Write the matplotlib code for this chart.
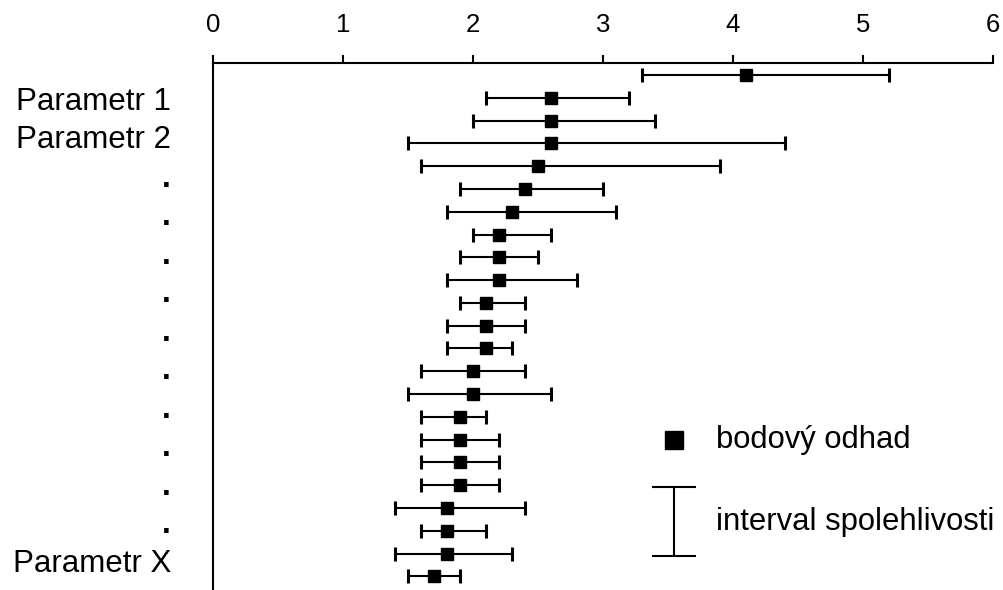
import matplotlib.pyplot as plt
import numpy as np

plt.rcParams['font.family'] = ['Liberation Sans', 'DejaVu Sans']

# point estimates and confidence intervals, top row first
estimate = [4.1, 2.6, 2.6, 2.6, 2.5, 2.4, 2.3, 2.2, 2.2, 2.2, 2.1, 2.1,
            2.1, 2.0, 2.0, 1.9, 1.9, 1.9, 1.9, 1.8, 1.8, 1.8, 1.7]
lower = [3.3, 2.1, 2.0, 1.5, 1.6, 1.9, 1.8, 2.0, 1.9, 1.8, 1.9, 1.8,
         1.8, 1.6, 1.5, 1.6, 1.6, 1.6, 1.6, 1.4, 1.6, 1.4, 1.5]
upper = [5.2, 3.2, 3.4, 4.4, 3.9, 3.0, 3.1, 2.6, 2.5, 2.8, 2.4, 2.4,
         2.3, 2.4, 2.6, 2.1, 2.2, 2.2, 2.2, 2.4, 2.1, 2.3, 1.9]

labels = ['Parametr 1', 'Parametr 2'] + ['.'] * 10 + ['Parametr X']
xticks = [0, 1, 2, 3, 4, 5, 6]

est = np.array(estimate)
lo = np.array(lower)
hi = np.array(upper)
rows = np.arange(1, len(est) + 1)

fig = plt.figure(figsize=(10.04, 5.9), dpi=100)
ax = fig.add_axes([213 / 1004, 0, 780 / 1004, 1 - 63 / 590])

ax.errorbar(est, rows, xerr=[est - lo, hi - est], fmt='s', color='black',
            ms=8.5, elinewidth=1.5, capsize=4.7, capthick=2.2)

ax.set_xlim(0, 6)
ax.set_ylim(23.6, 0.47)

ax.xaxis.tick_top()
ax.set_xticks(xticks)
ax.tick_params(axis='x', labelsize=18.5, length=6, width=1.5, pad=13,
               direction='out')
ax.set_yticks([])
for s in ['right', 'bottom']:
    ax.spines[s].set_visible(False)
ax.spines['top'].set_linewidth(1.5)
ax.spines['left'].set_linewidth(1.5)

# parameter names on the left
ypos = np.linspace(2.53, 22.8, len(labels))
for lab, y in zip(labels, ypos):
    ax.text(-0.054, y, lab, transform=ax.get_yaxis_transform(),
            ha='right', va='baseline', fontsize=22.5,
            fontweight='bold' if lab == '.' else 'normal')

# hand-made legend
ax.plot([3.55], [17.0], 's', color='black', ms=12.5, clip_on=False)
ax.text(3.87, 17.0, 'bodový odhad', fontsize=22.3, va='center')
ax.errorbar([3.55], [20.6], yerr=[[1.5], [1.5]], fmt='none', color='black',
            elinewidth=1.5, capsize=16, capthick=1.5, clip_on=False)
ax.text(3.87, 20.6, 'interval spolehlivosti', fontsize=22.3, va='center')

fig.savefig('out.png', dpi=100)
